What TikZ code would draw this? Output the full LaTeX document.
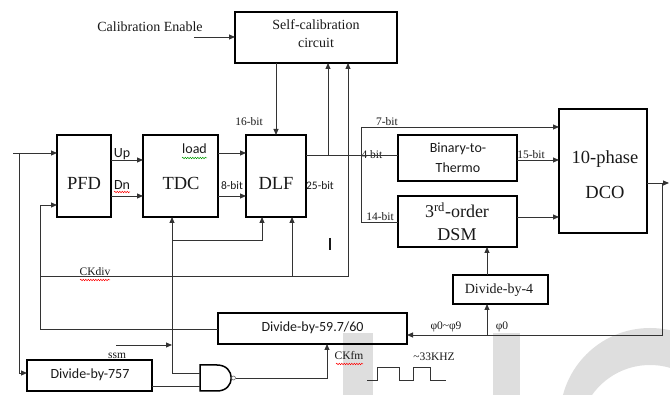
\documentclass[tikz,border=0pt]{standalone}
\usepackage{fontspec}
\setmainfont{Liberation Serif}
\newfontfamily\calfont{Carlito}
\usetikzlibrary{arrows.meta,decorations.pathmorphing}
\definecolor{wm}{gray}{0.87}
\definecolor{ln}{gray}{0.2}
\definecolor{tx}{gray}{0.1}
\begin{document}
\begin{tikzpicture}[x=1pt,y=-1pt,
  box/.style={draw=black, line width=1.5pt, anchor=north west, inner sep=0pt, outer sep=0pt},
  conn/.style={draw=ln, line width=0.9pt},
  arr/.style={conn, -{Triangle[length=6pt,width=5pt]}},
  lbl/.style={text=tx, inner sep=0pt, align=center},
  big/.style={lbl, font=\fontsize{18.5}{22}\selectfont},
  mid/.style={lbl, font=\fontsize{14}{18}\selectfont},
  sml/.style={lbl, font=\fontsize{11.5}{13}\selectfont},
  sansmid/.style={lbl, font=\calfont\fontsize{14}{20}\selectfont},
  sanssml/.style={lbl, font=\calfont\fontsize{11.5}{13}\selectfont},
  sq/.style={line width=0.5pt, decorate, decoration={snake, amplitude=0.7pt, segment length=2.5pt}},
  gateline/.style={draw=black, line width=1.5pt}
]
\useasboundingbox (0,0) rectangle (670,395);
% watermark
\begin{scope}
  \clip (0,0) rectangle (670,395);
  \fill[wm] (343,333) rectangle (373,395);
  \fill[wm] (493,333) rectangle (520,395);
  \fill[wm, even odd rule] (650,418) circle[radius=90pt] (650,436) circle[radius=71pt];
\end{scope}

% boxes
\node[box, minimum width=162pt, minimum height=51pt] (selfcal) at (235,12) {};
\node[box, minimum width=54pt, minimum height=82pt] (pfd) at (57,135) {};
\node[box, minimum width=75pt, minimum height=82pt] (tdc) at (143,135) {};
\node[box, minimum width=60pt, minimum height=82pt] (dlf) at (246,135) {};
\node[box, minimum width=119pt, minimum height=46pt] (bt) at (398,135) {};
\node[box, minimum width=119pt, minimum height=51pt] (dsm) at (398,196) {};
\node[box, minimum width=88pt, minimum height=124pt] (dco) at (559,109) {};
\node[box, minimum width=95pt, minimum height=29pt] (div4) at (453,275) {};
\node[box, minimum width=189pt, minimum height=31pt] (div60) at (218,313) {};
\node[box, minimum width=125pt, minimum height=31pt] (div757) at (27,360) {};

% AND gate
\draw[gateline] (200,365) -- (217,365) .. controls (236,365) and (236,391) .. (217,391) -- (200,391) -- cycle;
\draw[line width=0.6pt, draw=black!60] (233.5,378) circle[radius=2pt];
\coordinate (gin1) at (200,373);
\coordinate (gin2) at (200,386);
\coordinate (gout) at (235.5,378);

% box texts
\node[mid] (tselfcal) at (316,34) {Self-calibration\\circuit};
\node[big] (tpfd) at (84,183) {PFD};
\node[big] (ttdc) at (181,183) {TDC};
\node[big] (tdlf) at (276,183) {DLF};
\node[sansmid] (tbt) at (458,158) {Binary-to-\\Thermo};
\node[lbl, font=\fontsize{18}{23}\selectfont] (tdsm) at (457,222) {3\textsuperscript{rd}-order\\DSM};
\node[lbl, font=\fontsize{18.5}{35}\selectfont] (tdco) at (605,175) {10-phase\\DCO};
\node[mid] (tdiv4) at (499,290) {Divide-by-4};
\node[sansmid] (tdiv60) at (312.5,328) {Divide-by-59.7/60};
\node[sansmid] (tdiv757) at (90,375) {Divide-by-757};

% labels
\node[mid] (calen) at (150,26.5) {Calibration Enable};
\node[sml] (l16) at (249,122) {16-bit};
\node[sansmid] (lup) at (122,154) {Up};
\node[sansmid] (ldn) at (122,185) {Dn};
\node[sansmid] (lload) at (194.5,149) {load};
\node[sanssml] (l8) at (232,185.5) {8-bit};
\node[sanssml] (l25) at (320,186) {25-bit};
\node[sml] (l7) at (387,122) {7-bit};
\node[sml] (l4) at (372,155) {4 bit};
\node[sml] (l15) at (531,155) {15-bit};
\node[sml] (l14) at (380,217) {14-bit};
\node[sml] (lckdiv) at (95,272) {CKdiv};
\node[sml] (lssm) at (117,356) {ssm};
\node[sml] (lckfm) at (349,356) {CKfm};
\node[sml] (lkhz) at (434,357) {\textasciitilde 33KHZ};
\node[sml] (lphi) at (446,327) {φ0\textasciitilde φ9};
\node[sml] (lphi0) at (502,327) {φ0};

% spell-check squiggles
\draw[sq, red] (114,192) -- (130,192);
\draw[sq, green!60!black] (182,158) -- (207,158);
\draw[sq, red] (80,280) -- (110,280);
\draw[sq, red] (336,364) -- (363,364);

% connectors
\coordinate (calin) at (194,37);
\draw[arr] (calin) -- (calin -| selfcal.west);

\coordinate (b16) at (276,100);
\draw[arr] (b16 |- selfcal.south) -- (b16 |- dlf.north);

\coordinate (jout) at (328,155);
\draw[conn] (jout -| dlf.east) -- (jout -| bt.west);
\draw[arr] (jout) -- (jout |- selfcal.south);
\coordinate (j7) at (361,127);
\coordinate (j14) at (361,222);
\draw[conn] (j7) -- (j14);
\draw[arr] (j7) -- (j7 -| dco.west);
\draw[conn] (j14) -- (j14 -| dsm.west);
\coordinate (j15) at (530,160);
\draw[arr] (j15 -| bt.east) -- (j15 -| dco.west);
\coordinate (jdsm) at (530,217);
\draw[arr] (jdsm -| dsm.east) -- (jdsm -| dco.west);

\coordinate (dout) at (669,183);
\coordinate (dfb) at (662,183);
\coordinate (dfb2) at (662,335);
\draw[arr] (dout -| dco.east) -- (dout);
\draw[arr] (dfb) -- (dfb2) -- (dfb2 -| div60.east);
\coordinate (j4) at (487,335);
\draw[arr] (j4) -- (j4 |- div4.south);
\draw[arr] (j4 |- div4.north) -- (j4 |- dsm.south);

\coordinate (in) at (13,153);
\coordinate (inb) at (19,153);
\coordinate (inb2) at (19,373);
\draw[arr] (in) -- (in -| pfd.west);
\draw[arr] (inb) -- (inb2) -- (inb2 -| div757.west);

\coordinate (up) at (127,160);
\coordinate (dn) at (127,196);
\draw[arr] (up -| pfd.east) -- (up -| tdc.west);
\draw[arr] (dn -| pfd.east) -- (dn -| tdc.west);
\coordinate (ld) at (232,153);
\coordinate (b8) at (232,196);
\draw[arr] (ld -| tdc.east) -- (ld -| dlf.west);
\draw[arr] (b8 -| tdc.east) -- (b8 -| dlf.west);

\coordinate (fb1) at (40,329);
\coordinate (fb2) at (40,205);
\draw[arr] (fb1 -| div60.west) -- (fb1) -- (fb2) -- (fb2 -| pfd.west);

\coordinate (ck1) at (40,276);
\coordinate (ck2) at (348,276);
\coordinate (ck3) at (292,276);
\draw[arr] (ck1) -- (ck2) -- (ck2 |- selfcal.south);
\draw[arr] (ck3) -- (ck3 |- dlf.south);

\coordinate (t1) at (172,373);
\coordinate (t2) at (172,240);
\coordinate (t3) at (262,240);
\draw[arr] (gin1) -- (t1) -- (t1 |- tdc.south);
\draw[arr] (t2) -- (t3) -- (t3 |- dlf.south);

\coordinate (ssm0) at (116,345);
\draw[arr] (ssm0) -- (ssm0 -| t1);

\draw[conn] (gin2 -| div757.east) -- (gin2);

\coordinate (ckfm) at (327,378);
\draw[arr] (gout) -- (ckfm) -- (ckfm |- div60.south);

% square wave
\draw[conn] (367,380) -- (377,380) -- (377,367) -- (399,367) -- (399,380) -- (413,380) -- (413,367) -- (430,367) -- (430,380) -- (446,380);

% cursor mark
\draw[line width=1.6pt, tx] (330,238) -- (330,250);
\end{tikzpicture}
\end{document}
